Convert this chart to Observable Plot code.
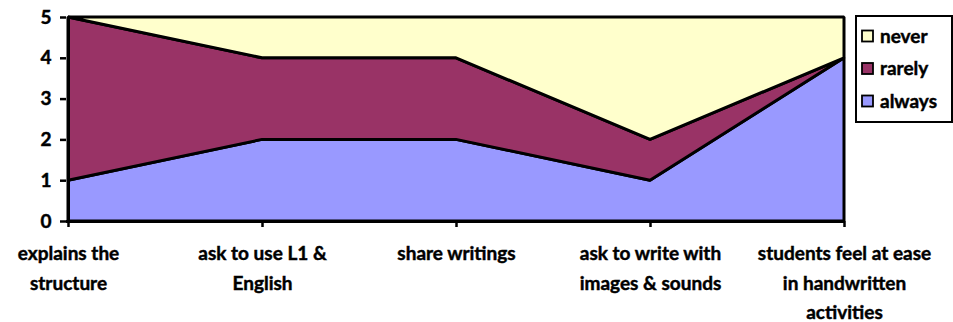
<!DOCTYPE html>
<html>
<head>
<meta charset="utf-8">
<script src="https://cdn.jsdelivr.net/npm/d3@7"></script>
<script src="https://cdn.jsdelivr.net/npm/@observablehq/plot@0.6"></script>
<style>
  html, body { margin: 0; padding: 0; background: #fff; }
  #chart svg { display: block; }
  /* slightly heavier lettering for all labels */
  #chart text { stroke: #000; stroke-width: 0.45px; paint-order: stroke; }
</style>
</head>
<body>
<div id="chart"></div>
<script>
// Survey items along the x axis
const categories = [
  "explains the\nstructure",
  "ask to use L1 &\nEnglish",
  "share writings",
  "ask to write with\nimages & sounds",
  "students feel at ease\nin handwritten\nactivities"
];
// Stacked answers per item (bottom to top)
const series = ["always", "rarely", "never"];
const always = [1, 2, 2, 1, 4];
const rarely = [4, 2, 2, 1, 0];
const never  = [0, 1, 1, 3, 1];
const yTicks = [0, 1, 2, 3, 4, 5];
const colors = ["#9999FF", "#993366", "#FFFFCC"];

const values = {always, rarely, never};
const rows = series.flatMap(s => categories.map((c, i) => ({category: c, series: s, value: values[s][i]})));

const font = "Lato, 'Open Sans', sans-serif";

const chart = Plot.plot({
  width: 953,
  height: 322,
  marginLeft: 66,
  marginRight: 108,
  marginTop: 17,
  marginBottom: 101,
  style: {fontFamily: font, fontWeight: "bold", fontSize: "19px", color: "#000", background: "#fff"},
  x: {type: "point", domain: categories, padding: 0},
  y: {domain: [0, 5]},
  color: {domain: series, range: colors},
  marks: [
    Plot.areaY(rows, {
      x: "category", y: "value", fill: "series", z: "series",
      order: series, stroke: "#000", strokeWidth: 3, strokeLinejoin: "miter"
    }),
    Plot.ruleY([0], {stroke: "#000", strokeWidth: 3}),
    Plot.ruleX([categories[0]], {stroke: "#000", strokeWidth: 3}),
    Plot.axisY({ticks: yTicks, tickSize: 6, tickPadding: 9, tickFormat: d => d, strokeWidth: 2.5, fontSize: 19, fontWeight: "bold", label: null}),
    Plot.axisX({tickSize: 6, tickPadding: 12, strokeWidth: 2.5, fontSize: 19, fontWeight: "bold", lineHeight: 1.55, label: null})
  ]
});

// Legend box in the top-right corner, listed top to bottom
const svg = d3.select(chart);
const color = chart.scale("color");
const lg = svg.append("g")
  .attr("font-family", font).attr("font-weight", "bold").attr("font-size", 19)
  .attr("text-anchor", "start");
lg.append("rect").attr("x", 856).attr("y", 16).attr("width", 96).attr("height", 106)
  .attr("fill", "#fff").attr("stroke", "#000").attr("stroke-width", 2);
const legendOrder = ["never", "rarely", "always"];
legendOrder.forEach((s, i) => {
  const cy = 36 + i * 32.5;
  lg.append("rect").attr("x", 862).attr("y", cy - 5.5).attr("width", 11).attr("height", 11)
    .attr("fill", color.apply(s)).attr("stroke", "#000").attr("stroke-width", 1.8);
  lg.append("text").attr("x", 880).attr("y", cy).attr("dy", "0.35em").text(s);
});

document.getElementById("chart").appendChild(chart);
</script>
</body>
</html>
